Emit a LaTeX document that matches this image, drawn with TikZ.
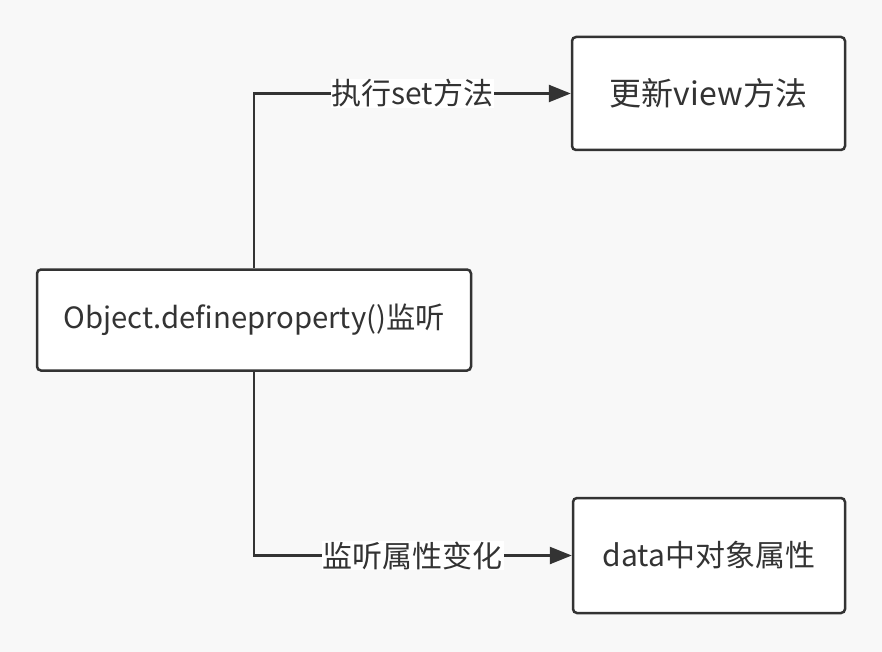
\documentclass[tikz,border=0pt]{standalone}
\usepackage{fontspec}
\setmainfont{Noto Sans CJK SC}
\usetikzlibrary{arrows.meta}
\definecolor{bg}{HTML}{F8F8F8}
\definecolor{ln}{HTML}{333333}
\tikzset{
  box/.style={draw=ln, line width=2.5pt, fill=white, rounded corners=4pt, inner sep=0pt, text=ln},
  conn/.style={draw=ln, line width=2.5pt, -{Triangle[length=22pt,width=17pt]}},
  lbl/.style={fill=white, inner sep=1pt, font=\fontsize{30}{36}\selectfont, text=ln}
}
\begin{document}
\begin{tikzpicture}[x=1pt,y=-1pt]
\fill[bg] (0,0) rectangle (882,652);
\useasboundingbox (0,0) rectangle (882,652);
\node[box, minimum width=273pt, minimum height=113pt, font=\fontsize{32}{38}\selectfont] (top) at (708.5,93.5) {更新view方法};
\node[box, minimum width=434pt, minimum height=101pt, font=\fontsize{29.3}{35}\selectfont] (mid) at (254,320) {Object.defineproperty()监听};
\node[box, minimum width=272pt, minimum height=115pt, font=\fontsize{30}{36}\selectfont] (bot) at (709,555.5) {data中对象属性};
\draw[conn] (mid.north) |- (top.west) node[lbl, pos=0.75] {执行set方法};
\draw[conn] (mid.south) |- (bot.west) node[lbl, pos=0.75] {监听属性变化};
\end{tikzpicture}
\end{document}
